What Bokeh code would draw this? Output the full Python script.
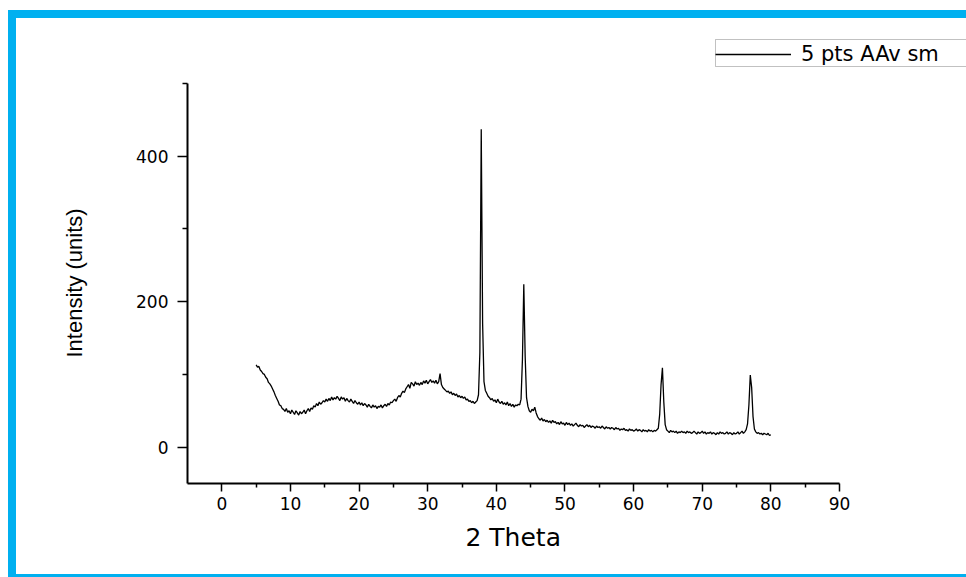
import numpy as np
from bokeh.plotting import figure
from bokeh.models import (Range1d, FixedTicker, Legend, LegendItem, ColumnDataSource,
                          Title, BoxAnnotation)
from bokeh.embed import file_html
from bokeh.resources import INLINE

# ---- data ----
THETA_START = 5.0
THETA_STEP = 0.2
intensity = [
    113, 110, 111, 106, 104, 101, 100, 96, 94, 89,      # 5.0 - 6.8
    87, 84, 80, 76, 71, 67, 63, 58, 57, 53,             # 7.0 - 8.8
    52, 49, 53, 48, 50, 46, 51, 48, 45, 50,             # 9.0 - 10.8
    47, 44, 49, 46, 48, 51, 46, 50, 53, 49,             # 11.0 - 12.8
    54, 52, 57, 55, 60, 57, 62, 59, 61, 64,             # 13.0 - 14.8
    62, 66, 63, 67, 64, 69, 65, 68, 66, 70,             # 15.0 - 16.8
    67, 64, 69, 66, 68, 63, 67, 64, 62, 66,             # 17.0 - 18.8
    63, 60, 64, 61, 59, 62, 58, 61, 57, 60,             # 19.0 - 20.8
    58, 55, 59, 56, 54, 58, 55, 57, 53, 56,             # 21.0 - 22.8
    55, 58, 54, 57, 59, 56, 60, 58, 62, 61,             # 23.0 - 24.8
    64, 66, 63, 68, 71, 69, 74, 77, 75, 80,             # 25.0 - 26.8
    83, 86, 81, 89, 87, 84, 90, 86, 88, 85,             # 27.0 - 28.8
    89, 86, 91, 88, 92, 87, 90, 93, 89, 91,             # 29.0 - 30.8
    88, 92, 87, 90, 101, 86, 82, 80, 78, 76,            # 31.0 - 32.8
    77, 74, 76, 72, 74, 71, 73, 69, 71, 68,             # 33.0 - 34.8
    70, 67, 69, 65, 66, 63, 64, 61, 63, 60,             # 35.0 - 36.8
    62, 64, 72, 130, 437, 170, 90, 78, 74, 70,          # 37.0 - 38.8
    68, 65, 67, 63, 65, 61, 66, 62, 60, 63,             # 39.0 - 40.8
    59, 61, 58, 62, 57, 60, 56, 59, 55, 58,             # 41.0 - 42.8
    57, 59, 58, 66, 120, 224, 125, 68, 56, 50,          # 43.0 - 44.8
    48, 52, 50, 55, 47, 42, 39, 37, 40, 36,             # 45.0 - 46.8
    38, 35, 37, 34, 36, 33, 37, 34, 35, 32,             # 47.0 - 48.8
    34, 31, 35, 32, 33, 30, 34, 31, 33, 30,             # 49.0 - 50.8
    32, 29, 31, 33, 30, 28, 31, 29, 30, 27,             # 51.0 - 52.8
    29, 31, 28, 30, 27, 29, 28, 26, 29, 27,             # 53.0 - 54.8
    28, 26, 29, 27, 25, 28, 26, 27, 25, 27,             # 55.0 - 56.8
    26, 24, 27, 25, 26, 23, 25, 24, 26, 23,             # 57.0 - 58.8
    24, 22, 25, 23, 24, 22, 23, 25, 22, 24,             # 59.0 - 60.8
    23, 21, 24, 22, 23, 21, 24, 22, 23, 21,             # 61.0 - 62.8
    23, 22, 24, 26, 45, 86, 109, 62, 31, 24,            # 63.0 - 64.8
    22, 20, 23, 21, 22, 20, 22, 19, 21, 20,             # 65.0 - 66.8
    22, 20, 21, 19, 22, 20, 21, 19, 20, 22,             # 67.0 - 68.8
    20, 18, 21, 19, 20, 22, 19, 21, 18, 20,             # 69.0 - 70.8
    19, 21, 18, 20, 19, 17, 20, 18, 21, 19,             # 71.0 - 72.8
    20, 18, 19, 21, 18, 20, 19, 17, 20, 18,             # 73.0 - 74.8
    19, 21, 18, 20, 22, 19, 21, 24, 32, 58,             # 75.0 - 76.8
    99, 82, 42, 25, 21, 19, 20, 18, 19, 17,             # 77.0 - 78.8
    19, 18, 17, 19, 16, 17,                             # 79.0 - 80.0
]
theta = [round(THETA_START + i * THETA_STEP, 1) for i in range(len(intensity))]

x_axis_bounds = (-5, 90)
y_axis_bounds = (-50, 500)
x_major_ticks = [0, 10, 20, 30, 40, 50, 60, 70, 80, 90]
x_minor_ticks = [5, 15, 25, 35, 45, 55, 65, 75, 85]
y_major_ticks = [0, 200, 400]
y_minor_ticks = [100, 300, 500]

series_label = "5 pts AAv sm"
x_title = "2 Theta"
y_title = "Intensity (units)"

# ---- layout (pixels) ----
W, H = 966, 577
AX_LEFT, AX_RIGHT, AX_TOP, AX_BOTTOM = 187, 839, 83, 483   # where the axes run
FRAME_TOP = 30                                             # frame reaches up to the legend
LEG_LEFT, LEG_TOP, LEG_BOTTOM = 715, 39, 66                # legend box (runs off the right edge)
XTITLE_LEFT = 465                                          # start of "2 Theta"
YTITLE_BOTTOM = 357                                        # lower end of the rotated y title

# the frame is extended right and up (so the legend can sit inside it);
# the ranges are widened so that the axes keep their reference positions
x_scale = (AX_RIGHT - AX_LEFT) / (x_axis_bounds[1] - x_axis_bounds[0])
y_scale = (AX_BOTTOM - AX_TOP) / (y_axis_bounds[1] - y_axis_bounds[0])
x_end = x_axis_bounds[1] + (W - AX_RIGHT) / x_scale
y_end = y_axis_bounds[1] + (AX_TOP - FRAME_TOP) / y_scale


def px_to_x(px):
    return x_axis_bounds[0] + (px - AX_LEFT) / x_scale


def px_to_y(py):
    return y_axis_bounds[0] + (AX_BOTTOM - py) / y_scale


BLUE = "#00B0F0"
p = figure(width=W, height=H, output_backend="svg", toolbar_location=None,
           x_range=Range1d(x_axis_bounds[0], x_end),
           y_range=Range1d(y_axis_bounds[0], y_end),
           min_border_left=AX_LEFT, min_border_right=0,
           min_border_top=FRAME_TOP, min_border_bottom=H - AX_BOTTOM)
p.background_fill_color = "white"
p.background_fill_alpha = 0
p.border_fill_color = "white"
p.border_fill_alpha = 0
p.outline_line_color = None
p.grid.visible = False
# blue picture frame (left, top, bottom) painted behind the transparent canvas
grad = "linear-gradient(%s,%s)" % (BLUE, BLUE)
p.styles = {
    "background": (
        f"{grad} 8px 10px / 8px 567px no-repeat, "
        f"{grad} 8px 10px / 958px 8px no-repeat, "
        f"{grad} 8px 574px / 958px 3px no-repeat, "
        "white"
    )
}

src = ColumnDataSource(dict(x=theta, y=intensity))
r = p.line("x", "y", source=src, line_color="black", line_width=1.3)

for ax in (p.xaxis[0], p.yaxis[0]):
    ax.axis_line_width = 2
    ax.axis_line_color = "black"
    ax.major_tick_line_width = 1.5
    ax.minor_tick_line_width = 1.5
    ax.major_tick_line_color = "black"
    ax.minor_tick_line_color = "black"
    ax.major_tick_in = 0
    ax.minor_tick_in = 0
    ax.major_label_text_color = "black"
    ax.major_label_text_font = "DejaVu Sans"
    ax.major_label_text_font_size = "17px"

xa = p.xaxis[0]
xa.bounds = x_axis_bounds
xa.ticker = FixedTicker(ticks=x_major_ticks, minor_ticks=x_minor_ticks)
xa.major_tick_out = 8
xa.minor_tick_out = 4
xa.major_label_standoff = 5

ya = p.yaxis[0]
ya.bounds = y_axis_bounds
ya.ticker = FixedTicker(ticks=y_major_ticks, minor_ticks=y_minor_ticks)
ya.major_tick_out = 10
ya.minor_tick_out = 5
ya.major_label_standoff = 9

# axis titles (as titles so that they can be centred on the axes, not on the wider frame)
p.add_layout(Title(text=x_title, align="left", offset=XTITLE_LEFT - AX_LEFT,
                   text_font="DejaVu Sans", text_font_size="25px",
                   text_font_style="normal", text_color="black",
                   vertical_align="top", standoff=20), "below")
p.add_layout(Title(text=y_title, align="left", offset=AX_BOTTOM - YTITLE_BOTTOM,
                   text_font="Liberation Sans", text_font_size="22px",
                   text_font_style="normal", text_color="black",
                   vertical_align="bottom", standoff=94), "left")

# legend box (runs off the right edge as in the reference)
p.add_layout(BoxAnnotation(left=px_to_x(LEG_LEFT), right=x_end + 10,
                           top=px_to_y(LEG_TOP), bottom=px_to_y(LEG_BOTTOM),
                           fill_color="white", fill_alpha=1,
                           line_color="#333333", line_width=1))
legend = Legend(items=[LegendItem(label=series_label, renderers=[r])],
                location=(LEG_LEFT - AX_LEFT, AX_BOTTOM - LEG_BOTTOM),
                margin=0, padding=2, spacing=0,
                glyph_width=76, glyph_height=20, label_height=20,
                label_standoff=10,
                label_text_font="DejaVu Sans", label_text_font_size="21px",
                label_text_color="black",
                border_line_color=None, background_fill_alpha=0)
p.add_layout(legend, "center")

open("out.html", "w").write(file_html(p, INLINE))
